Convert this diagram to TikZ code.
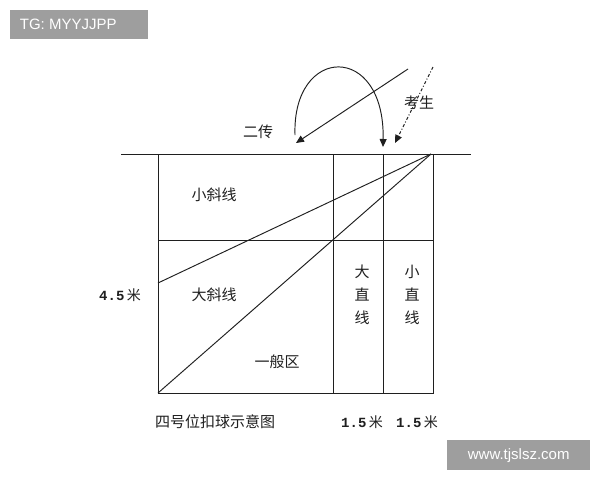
\documentclass[tikz,border=0pt]{standalone}
\usepackage{fontspec}
\setmainfont{Liberation Sans}
\newfontfamily\cjk{Noto Sans CJK SC}
\newfontfamily\digits{Liberation Mono}
\usetikzlibrary{arrows.meta}
\begin{document}
\begin{tikzpicture}[x=1pt,y=-1pt,
  ln/.style={line width=0.95pt,draw=black!88},
  lbl/.style={font=\cjk\fontsize{15}{17}\selectfont,inner sep=0pt,text=black!88},
  num/.style={font=\cjk\fontsize{14}{16}\selectfont,inner sep=0pt,text=black!88},
  tip/.style={-{Triangle[width=7pt,length=8pt]}},
  tag/.style={fill=black!38,text=white,font=\fontsize{15}{17}\selectfont,inner sep=0pt}]
\useasboundingbox (0,0) rectangle (600,480);
\fill[white] (0,0) rectangle (600,480);
% watermark boxes
\node[tag,minimum width=138pt,minimum height=29pt,anchor=north west] (tg) at (10,10) {TG: MYYJJPP\hspace*{22pt}};
\node[tag,minimum width=143pt,minimum height=30pt,anchor=north west] (web) at (447,440) {www.tjslsz.com};
% court geometry
\coordinate (tl) at (158,154);
\coordinate (tr) at (433,154);
\coordinate (bl) at (158,393);
\coordinate (br) at (433,393);
\coordinate (netL) at (121,154);
\coordinate (netR) at (471,154);
\coordinate (v1t) at (333,154);
\coordinate (v1b) at (333,393);
\coordinate (v2t) at (383,154);
\coordinate (v2b) at (383,393);
\coordinate (ml) at (158,240);
\coordinate (mr) at (433,240);
\coordinate (apex) at (431,154);
\coordinate (d1) at (158,283);
\draw[ln] (netL) -- (netR);
\draw[ln] (tl) -- (bl) -- (br) -- (tr);
\draw[ln] (v1t) -- (v1b);
\draw[ln] (v2t) -- (v2b);
\draw[ln] (ml) -- (mr);
\draw[ln] (apex) -- (d1);
\draw[ln] (apex) -- (bl);
% arrows above
\coordinate (a0) at (295,135);
\coordinate (a1) at (383,147);
\coordinate (s0) at (408,69);
\coordinate (s1) at (296,143);
\coordinate (p0) at (433,67);
\coordinate (p1) at (395,143);
\draw[ln,tip] (a0) .. controls (292,45) and (385,42) .. (a1);
\draw[ln,tip] (s0) -- (s1);
\draw[ln,tip,dash pattern=on 3pt off 2pt on 1pt off 2pt] (p0) -- (p1);
% labels
\node[lbl] (kaosheng) at (419,103) {考生};
\node[lbl] (erchuan) at (258,132) {二传};
\node[lbl] (xiaoxie) at (214,195) {小斜线};
\node[lbl] (daxie) at (214,295) {大斜线};
\node[lbl] (yiban) at (277,362) {一般区};
\node[lbl] (dz1) at (362,272) {大};
\node[lbl] (dz2) at (362,295) {直};
\node[lbl] (dz3) at (362,318) {线};
\node[lbl] (xz1) at (412,272) {小};
\node[lbl] (xz2) at (412,295) {直};
\node[lbl] (xz3) at (412,318) {线};
\node[num] (h) at (120,295) {{\digits\bfseries 4.5}\,米};
\node[lbl] (title) at (215,422) {四号位扣球示意图};
\node[num] (w1) at (362,422) {{\digits\bfseries 1.5}\,米};
\node[num] (w2) at (417,422) {{\digits\bfseries 1.5}\,米};
\end{tikzpicture}
\end{document}
